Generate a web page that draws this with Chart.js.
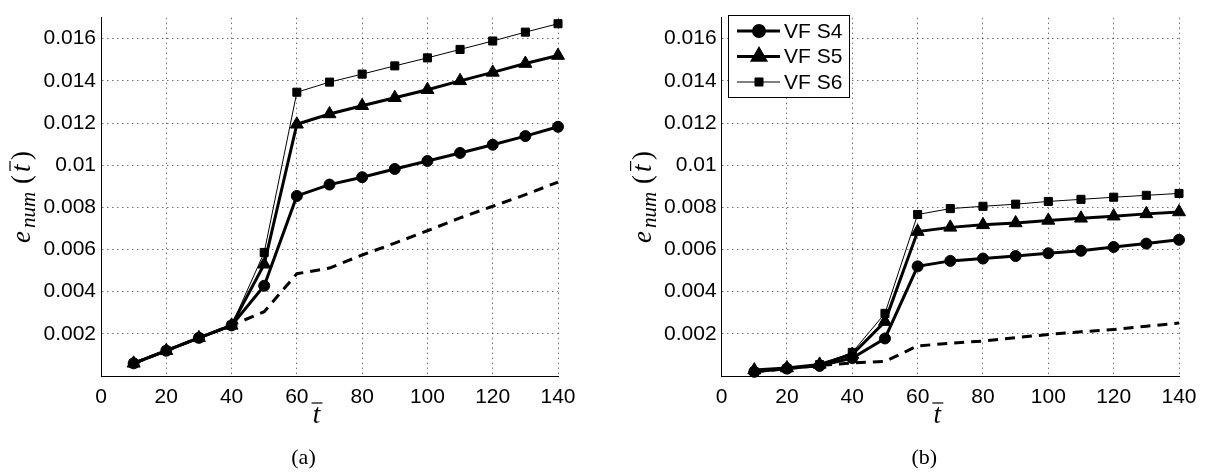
<!DOCTYPE html>
<html>
<head>
<title>e_num vs t</title>
<script src="https://cdn.jsdelivr.net/npm/chart.js@4.4.0/dist/chart.umd.min.js"></script>
<style>
  body { margin: 0; background: #fff; }
  canvas { position: absolute; top: 0; }
</style>
</head>
<body>
<canvas id="chartA" width="600" height="473" style="left:0px"></canvas>
<canvas id="chartB" width="606" height="473" style="left:600px"></canvas>
<script>
// time values (t bar)
const tBar = [10, 20, 30, 40, 50, 60, 70, 80, 90, 100, 110, 120, 130, 140];

// panel (a)
const s4A  = [0.0006, 0.0012, 0.00181, 0.00240, 0.00428, 0.00854, 0.00908, 0.00943, 0.00982, 0.0102, 0.01058, 0.01097, 0.01138, 0.01182];
const s5A  = [0.0006, 0.0012, 0.00181, 0.00240, 0.00530, 0.01194, 0.01243, 0.01282, 0.0132, 0.01358, 0.0140, 0.0144, 0.01482, 0.0152];
const s6A  = [0.0006, 0.0012, 0.00181, 0.00240, 0.00586, 0.01346, 0.01394, 0.01432, 0.01471, 0.01509, 0.01549, 0.01589, 0.01631, 0.01671];
const refA = [0.0006, 0.0012, 0.00181, 0.00240, 0.00305, 0.00485, 0.00512, 0.00574, 0.0063, 0.00689, 0.0075, 0.00805, 0.0086, 0.0092];

// panel (b)
const s4B  = [0.0002, 0.00035, 0.00048, 0.00085, 0.00178, 0.0052, 0.00546, 0.00557, 0.00569, 0.00582, 0.00594, 0.00612, 0.00628, 0.00646];
const s5B  = [0.00028, 0.00038, 0.00055, 0.00102, 0.00258, 0.00685, 0.00705, 0.00717, 0.00726, 0.00738, 0.00748, 0.00758, 0.00769, 0.00778];
const s6B  = [0.0002, 0.00035, 0.00054, 0.00112, 0.00297, 0.00766, 0.00794, 0.00805, 0.00815, 0.00828, 0.00838, 0.00848, 0.00857, 0.00866];
const refB = [0.0002, 0.00035, 0.0005, 0.00062, 0.00069, 0.00143, 0.00155, 0.00166, 0.00182, 0.00197, 0.0021, 0.0022, 0.00236, 0.00251];

const seriesNames = ['VF S4', 'VF S5', 'VF S6'];
const xTicks = [0, 20, 40, 60, 80, 100, 120, 140];
const yTicks = [0.002, 0.004, 0.006, 0.008, 0.01, 0.012, 0.014, 0.016];
const yTickLabels = ['0.002', '0.004', '0.006', '0.008', '0.01', '0.012', '0.014', '0.016'];

const tickFont = { family: '"Liberation Sans", Arial, sans-serif', size: 21 };
const serif = '"Liberation Serif", "DejaVu Serif", serif';

function pts(vals) {
  return tBar.map((t, i) => ({ x: t, y: vals[i] }));
}

function drawYTitle(ctx, cx, cy) {
  // e_num(t bar), rotated
  ctx.save();
  ctx.translate(cx, cy);
  ctx.rotate(-Math.PI / 2);
  ctx.fillStyle = '#000';
  ctx.textBaseline = 'alphabetic';
  ctx.textAlign = 'left';
  const start = -45;
  const base = 8;
  ctx.font = 'italic 27px ' + serif;
  ctx.fillText('e', start, base);
  ctx.font = 'italic 21px ' + serif;
  ctx.fillText('num', start + 15, base + 5);
  ctx.font = '27px ' + serif;
  ctx.fillText('(', start + 59, base);
  ctx.font = 'italic 27px ' + serif;
  ctx.fillText('t', start + 71, base);
  ctx.font = '27px ' + serif;
  ctx.fillText(')', start + 83, base);
  ctx.lineWidth = 1.2;
  ctx.strokeStyle = '#000';
  ctx.beginPath();
  ctx.moveTo(start + 72, base - 20);
  ctx.lineTo(start + 82, base - 20);
  ctx.stroke();
  ctx.restore();
}

const labelPlugin = {
  id: 'labelPlugin',
  afterDraw(chart, args, opts) {
    const ctx = chart.ctx;
    const a = chart.chartArea;
    const mid = (a.left + a.right) / 2;
    drawYTitle(ctx, a.left - 79, 198);

    ctx.save();
    ctx.fillStyle = '#000';
    ctx.strokeStyle = '#000';
    ctx.textAlign = 'center';
    ctx.textBaseline = 'alphabetic';
    ctx.font = 'italic 27px ' + serif;
    ctx.fillText('t', mid - 13, 423);
    ctx.lineWidth = 1.2;
    ctx.beginPath();
    ctx.moveTo(mid - 18, 403);
    ctx.lineTo(mid - 7, 403);
    ctx.stroke();
    ctx.font = '22px ' + serif;
    ctx.fillText(opts.caption, mid - 26, 464);

    if (opts.legend) {
      const lg = opts.legend;
      ctx.fillStyle = '#fff';
      ctx.fillRect(lg.x, lg.y, lg.w, lg.h);
      ctx.lineWidth = 1;
      ctx.strokeRect(lg.x + 0.5, lg.y + 0.5, lg.w, lg.h);
      ctx.textAlign = 'left';
      ctx.textBaseline = 'middle';
      ctx.font = '21px "Liberation Sans", Arial, sans-serif';
      chart.data.datasets.forEach((ds, i) => {
        if (!ds.label) return;
        const y = lg.y + 16 + i * 25.5;
        ctx.strokeStyle = '#000';
        ctx.fillStyle = '#000';
        ctx.lineWidth = ds.borderWidth;
        ctx.beginPath();
        ctx.moveTo(lg.x + 9, y);
        ctx.lineTo(lg.x + 52, y);
        ctx.stroke();
        Chart.helpers.drawPoint(ctx, {
          pointStyle: ds.pointStyle, radius: ds.pointRadius, rotation: 0, borderWidth: 1
        }, lg.x + 31, y);
        ctx.fillStyle = '#000';
        ctx.fillText(ds.label, lg.x + 56, y + 1);
      });
    }
    ctx.restore();
  }
};

function makeChart(id, s4, s5, s6, ref, caption, areaLeft, padRight, legend) {
  const common = { borderColor: '#000', backgroundColor: '#000', pointBackgroundColor: '#000',
    pointBorderColor: '#000', pointBorderWidth: 1, tension: 0, fill: false, clip: false };
  return new Chart(document.getElementById(id), {
    type: 'line',
    data: {
      datasets: [
        Object.assign({}, common, { label: seriesNames[0], data: pts(s4), borderWidth: 3, pointStyle: 'circle', pointRadius: 5.5 }),
        Object.assign({}, common, { label: seriesNames[1], data: pts(s5), borderWidth: 3, pointStyle: 'triangle', pointRadius: 7.5 }),
        Object.assign({}, common, { label: seriesNames[2], data: pts(s6), borderWidth: 1, pointStyle: 'rect', pointRadius: 5.7 }),
        Object.assign({}, common, { label: '', data: pts(ref), borderWidth: 3, borderDash: [10, 7], pointRadius: 0 })
      ]
    },
    options: {
      responsive: false,
      animation: false,
      layout: { padding: { left: 0, top: 8, right: padRight, bottom: 0 } },
      plugins: {
        legend: { display: false },
        tooltip: { enabled: false },
        labelPlugin: { caption: caption, legend: legend }
      },
      scales: {
        x: {
          type: 'linear', min: 0, max: 140,
          afterBuildTicks: s => { s.ticks = xTicks.map(v => ({ value: v })); },
          afterFit: s => { s.height = 97; },
          grid: { color: 'rgba(0,0,0,0.55)', lineWidth: 1, drawTicks: false },
          border: { display: true, color: '#000', width: 1, dash: [1.5, 3.5] },
          ticks: { color: '#000', font: tickFont, padding: 9, maxRotation: 0, autoSkip: false }
        },
        y: {
          type: 'linear', min: 0, max: 0.017,
          afterBuildTicks: s => { s.ticks = yTicks.map(v => ({ value: v })); },
          afterFit: s => { s.width = areaLeft; },
          grid: { color: 'rgba(0,0,0,0.55)', lineWidth: 1, drawTicks: false },
          border: { display: true, color: '#000', width: 1, dash: [1.5, 3.5] },
          ticks: { color: '#000', font: tickFont, padding: 5,
            callback: (v, i) => yTickLabels[i] }
        }
      }
    },
    plugins: [labelPlugin]
  });
}

makeChart('chartA', s4A, s5A, s6A, refA, '(a)', 101, 42, null);
makeChart('chartB', s4B, s5B, s6B, refB, '(b)', 121.6, 27, { x: 128, y: 15, w: 121, h: 82 });
</script>
</body>
</html>
